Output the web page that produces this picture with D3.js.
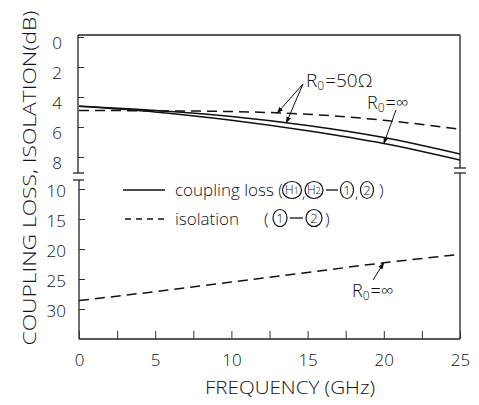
<!DOCTYPE html>
<html>
<head>
<meta charset="utf-8">
<script src="https://cdn.jsdelivr.net/npm/d3@7"></script>
<style>
  body { margin: 0; background: #fff; }
  svg text { font-family: "Open Sans", "Liberation Sans", sans-serif; font-weight: 300; fill: #111; }
</style>
</head>
<body>
<div id="chart"></div>
<script>
// values
var freq = [0, 5, 10, 15, 20, 25];
var coupling50 = [4.62, 4.9, 5.3, 5.9, 6.7, 7.8];
var couplingInf = [4.62, 5.0, 5.55, 6.25, 7.1, 8.2];
var isolation50 = [4.9, 4.92, 4.97, 5.15, 5.55, 6.15];
var isolationInf = [28.6, 27.1, 25.5, 23.9, 22.3, 20.9];

var xTicks = [0, 2.5, 5, 7.5, 10, 12.5, 15, 17.5, 20, 22.5, 25];
var yTopTicks = [0, 2, 4, 6, 8];
var yBotTicks = [10, 15, 20, 25, 30];

var svgWidth = 479, svgHeight = 405;
var svg = d3.select("#chart").append("svg")
    .attr("width", svgWidth)
    .attr("height", svgHeight);

var x = d3.scaleLinear().domain([0, 25]).range([79, 460]);
var yTop = d3.scaleLinear().domain([0, 8]).range([37, 157]);
var yBot = d3.scaleLinear().domain([10, 30]).range([189, 309]);

var top0 = 35, topBreakL = 173, botBreakL = 180, bottom = 339;

var defs = svg.append("defs");
defs.append("marker")
    .attr("id", "arr")
    .attr("viewBox", "0 0 10 10")
    .attr("refX", 9).attr("refY", 5)
    .attr("markerWidth", 7).attr("markerHeight", 7)
    .attr("orient", "auto")
    .append("path").attr("d", "M0,1.5L10,5L0,8.5Z").attr("fill", "#111");

// frame
var frame = svg.append("g").attr("stroke", "#222").attr("stroke-width", 1.3).attr("fill", "none");
frame.append("line").attr("x1", x(0) - 1).attr("x2", x(25)).attr("y1", top0).attr("y2", top0);
frame.append("line").attr("x1", x(0)).attr("x2", x(25)).attr("y1", bottom).attr("y2", bottom);
frame.append("line").attr("x1", x(0) - 1).attr("x2", x(0) - 1).attr("y1", top0).attr("y2", topBreakL);
frame.append("line").attr("x1", x(0)).attr("x2", x(0)).attr("y1", botBreakL).attr("y2", bottom);
frame.append("line").attr("x1", x(25)).attr("x2", x(25)).attr("y1", top0).attr("y2", 168);
frame.append("line").attr("x1", x(25)).attr("x2", x(25)).attr("y1", 173).attr("y2", bottom);
// break marks
[[x(0) - 6, x(0) + 5, topBreakL], [x(0) - 6, x(0) + 5, botBreakL],
 [x(25) - 6, x(25) + 6, 168], [x(25) - 6, x(25) + 6, 173]].forEach(function (b) {
    frame.append("line").attr("x1", b[0]).attr("x2", b[1]).attr("y1", b[2]).attr("y2", b[2]);
});

// axes
var axisTop = svg.append("g")
    .attr("transform", "translate(" + (x(0) - 1) + ",0)")
    .call(d3.axisLeft(yTop).tickValues(yTopTicks).tickSizeInner(-6).tickSizeOuter(0).tickPadding(16));
var axisBot = svg.append("g")
    .attr("transform", "translate(" + x(0) + ",0)")
    .call(d3.axisLeft(yBot).tickValues(yBotTicks).tickSizeInner(-6).tickSizeOuter(0).tickPadding(13));
var axisX = svg.append("g")
    .attr("transform", "translate(0," + bottom + ")")
    .call(d3.axisBottom(x).tickValues(xTicks).tickSizeInner(-8).tickSizeOuter(0).tickPadding(15)
        .tickFormat(function (d) { return d % 5 === 0 ? d : ""; }));
[axisTop, axisBot, axisX].forEach(function (a) {
    a.select(".domain").remove();
    a.selectAll(".tick line").attr("stroke", "#333").attr("stroke-width", 1);
    a.selectAll("text").attr("font-size", 17).attr("fill", "#111")
        .style("font-family", "'Open Sans', 'Liberation Sans', sans-serif").style("font-weight", 300);
});
axisTop.selectAll("text").attr("dy", "0.68em");
axisBot.selectAll("text").attr("dy", "0.45em");

// curves
var lineTop = d3.line().curve(d3.curveMonotoneX)
    .x(function (d, i) { return x(freq[i]); })
    .y(function (d) { return yTop(d); });
var lineBot = d3.line().curve(d3.curveMonotoneX)
    .x(function (d, i) { return x(freq[i]); })
    .y(function (d) { return yBot(d); });

var curves = svg.append("g").attr("fill", "none").attr("stroke", "#111");
curves.append("path").attr("d", lineTop(coupling50)).attr("stroke-width", 1.6);
curves.append("path").attr("d", lineTop(couplingInf)).attr("stroke-width", 1.6);
curves.append("path").attr("d", lineTop(isolation50)).attr("stroke-width", 1.5).attr("stroke-dasharray", "10,6");
curves.append("path").attr("d", lineBot(isolationInf)).attr("stroke-width", 1.5).attr("stroke-dasharray", "10,6");

// annotations
function valueAt(series, f) {
    return d3.scaleLinear().domain(freq).range(series)(f);
}
var ann = svg.append("g").attr("stroke", "#111").attr("stroke-width", 1);
function arrow(x1, y1, x2, y2) {
    ann.append("line").attr("x1", x1).attr("y1", y1).attr("x2", x2).attr("y2", y2)
        .attr("marker-end", "url(#arr)");
}
arrow(303, 84, x(13), yTop(valueAt(isolation50, 13)));
arrow(303, 84, x(13.6), yTop(valueAt(coupling50, 13.6)));
arrow(396, 110, x(20), yTop(valueAt(couplingInf, 20)));
arrow(373, 280, x(20), yBot(valueAt(isolationInf, 20)));

function rLabel(px, py, rest, fs) {
    var t = svg.append("text").attr("x", px).attr("y", py).attr("font-size", fs);
    t.append("tspan").text("R");
    t.append("tspan").attr("font-size", 12).attr("dy", 3).text("0");
    t.append("tspan").attr("dy", -3).attr("dx", 1).text(rest);
}
rLabel(306, 87, "=50\u03A9", 19);
rLabel(367, 109, "=\u221E", 18);
rLabel(352, 297, "=\u221E", 18);

// legend
var leg = svg.append("g");
leg.append("line").attr("x1", 123).attr("x2", 165).attr("y1", 190).attr("y2", 190)
    .attr("stroke", "#111").attr("stroke-width", 1.4);
leg.append("line").attr("x1", 125).attr("x2", 167).attr("y1", 219).attr("y2", 219)
    .attr("stroke", "#111").attr("stroke-width", 1.4).attr("stroke-dasharray", "6,5");
leg.append("text").attr("x", 175).attr("y", 196).attr("font-size", 17).text("coupling loss (");
leg.append("text").attr("x", 175).attr("y", 225).attr("font-size", 17).text("isolation");

function circ(cx, cy, rx, label, fs) {
    leg.append("ellipse").attr("cx", cx).attr("cy", cy).attr("rx", rx).attr("ry", 8.5)
        .attr("fill", "none").attr("stroke", "#111").attr("stroke-width", 1.2);
    var t = leg.append("text").attr("x", cx).attr("y", cy + fs * 0.36)
        .attr("text-anchor", "middle").attr("font-size", fs);
    if (label.length > 1) {
        t.append("tspan").text(label[0]);
        t.append("tspan").attr("font-size", fs * 0.8).text(label[1]);
    } else {
        t.text(label);
    }
}
circ(292, 190, 9.5, "H1", 12);
leg.append("text").attr("x", 302).attr("y", 198).attr("font-size", 15).text(",");
circ(314, 190, 9, "H2", 12);
leg.append("line").attr("x1", 326).attr("x2", 338).attr("y1", 190).attr("y2", 190).attr("stroke", "#111").attr("stroke-width", 1.3);
circ(347, 190, 6.5, "1", 13);
leg.append("text").attr("x", 355).attr("y", 198).attr("font-size", 15).text(",");
circ(367, 190, 6.5, "2", 13);
leg.append("text").attr("x", 379).attr("y", 196).attr("font-size", 17).text(")");

leg.append("text").attr("x", 264).attr("y", 225).attr("font-size", 17).text("(");
circ(280, 218, 7, "1", 13);
leg.append("line").attr("x1", 290).attr("x2", 303).attr("y1", 218).attr("y2", 218).attr("stroke", "#111").attr("stroke-width", 1.3);
circ(314, 218, 8, "2", 13);
leg.append("text").attr("x", 325).attr("y", 225).attr("font-size", 17).text(")");

// axis titles
svg.append("text")
    .attr("transform", "translate(36,178) rotate(-90)")
    .attr("text-anchor", "middle")
    .attr("font-size", 19)
    .attr("textLength", 335).attr("lengthAdjust", "spacingAndGlyphs")
    .text("COUPLING LOSS, ISOLATION(dB)");
svg.append("text")
    .attr("x", 290).attr("y", 394)
    .attr("text-anchor", "middle")
    .attr("font-size", 19)
    .attr("textLength", 170).attr("lengthAdjust", "spacingAndGlyphs")
    .text("FREQUENCY (GHz)");
</script>
</body>
</html>
